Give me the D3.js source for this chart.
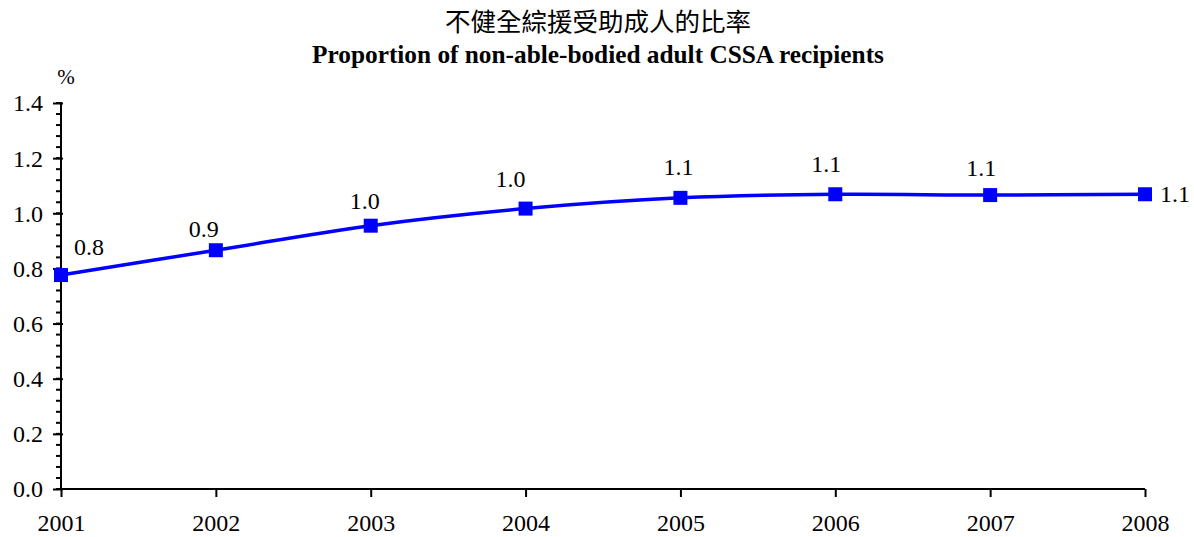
<!DOCTYPE html>
<html><head><meta charset="utf-8">
<script src="https://cdn.jsdelivr.net/npm/d3@7"></script>
<style>body{margin:0;background:#fff}svg{display:block}</style>
</head><body>
<svg id="c" width="1194" height="537"></svg>
<script>
const years = ["2001","2002","2003","2004","2005","2006","2007","2008"];
const values = [0.776, 0.866, 0.955, 1.017, 1.056, 1.069, 1.066, 1.069];
const yTicks = [0, 0.2, 0.4, 0.6, 0.8, 1.0, 1.2, 1.4];
const titleZh = "不健全綜援受助成人的比率";
const titleEn = "Proportion of non-able-bodied adult CSSA recipients";
const unitLabel = "%";
// label offsets (layout only)
const labelOffsets = [[28,-20,"middle"],[-12,-13,"middle"],[-6,-17,"middle"],[-15,-22,"middle"],[-2,-23,"middle"],[-9,-22,"middle"],[-9,-19,"middle"],[15,8,"start"]];

const svg = d3.select("#c");
const serif = "Liberation Serif, Times New Roman, serif";
const x = d3.scalePoint().domain(years).range([61,1145]);
const y = d3.scaleLinear().domain([0,1.4]).range([489,103]);

svg.append("text").attr("x",598).attr("y",31).attr("text-anchor","middle")
  .attr("font-family","Noto Sans CJK TC, Noto Sans CJK SC, sans-serif").attr("font-size",25.5).text(titleZh);
svg.append("text").attr("x",598).attr("y",63).attr("text-anchor","middle")
  .attr("font-family",serif).attr("font-weight","bold").attr("font-size",25.3).text(titleEn);
svg.append("text").attr("x",66).attr("y",84).attr("text-anchor","middle")
  .attr("font-family",serif).attr("font-size",21).text(unitLabel);

// y axis minor ticks
const gy = svg.append("g").attr("transform","translate(61,0)");
const minor = d3.range(0,1.4001,0.04);
gy.selectAll("line.minor").data(minor).join("line")
  .attr("x1",-5).attr("x2",1).attr("y1",d=>y(d)).attr("y2",d=>y(d))
  .attr("stroke","#000").attr("stroke-width",2);
const yAxis = d3.axisLeft(y).tickValues(yTicks).tickFormat(d3.format(".1f")).tickSize(8).tickPadding(10);
gy.call(yAxis);
gy.attr("font-family",null);
gy.select(".domain").attr("stroke-width",2).attr("d","M0,"+y(1.4)+"V"+y(0));
gy.selectAll(".tick line").attr("stroke-width",2).attr("x2",-8).attr("x1",2);
gy.selectAll("text").attr("font-family",serif).attr("font-size",24).attr("fill","#000").attr("dy","0.33em");

const gx = svg.append("g").attr("transform","translate(0,489)");
gx.call(d3.axisBottom(x).tickSize(8).tickPadding(22));
gx.attr("font-family",null);
gx.select(".domain").attr("stroke-width",2).attr("d","M61,0H1145");
gx.selectAll(".tick line").attr("stroke-width",2);
gx.selectAll("text").attr("font-family",serif).attr("font-size",24).attr("fill","#000")
  .attr("y",42).attr("dy",null);

const line = d3.line().x((d,i)=>x(years[i])).y(d=>y(d)).curve(d3.curveCatmullRom.alpha(0.5));
svg.append("path").datum(values).attr("d",line).attr("fill","none").attr("stroke","#0000ff").attr("stroke-width",3.5);

svg.selectAll("rect.m").data(values).join("rect")
  .attr("x",(d,i)=>x(years[i])-7).attr("y",d=>y(d)-7).attr("width",14).attr("height",14).attr("fill","#0000ff");

svg.selectAll("text.lbl").data(values).join("text")
  .attr("x",(d,i)=>x(years[i])+labelOffsets[i][0])
  .attr("y",(d,i)=>y(d)+labelOffsets[i][1])
  .attr("text-anchor",(d,i)=>labelOffsets[i][2])
  .attr("font-family",serif).attr("font-size",24).attr("fill","#000")
  .text(d=>d3.format(".1f")(d));
</script>
</body></html>
